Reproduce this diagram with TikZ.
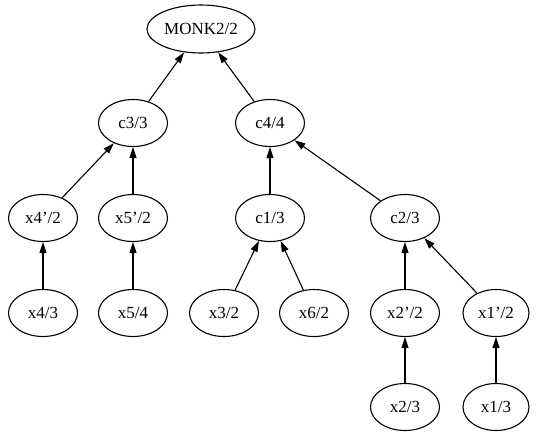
\documentclass[tikz,border=0pt]{standalone}
\usepackage{fontspec}
\setmainfont{Liberation Serif}
\usetikzlibrary{shapes.geometric,arrows.meta}
\begin{document}
\begin{tikzpicture}[x=1pt,y=-1pt,
  every node/.style={font=\fontsize{17}{20}\selectfont},
  vbox/.style={draw,ellipse,line width=1.1pt,minimum width=69pt,minimum height=47pt,inner sep=1pt},
  edge/.style={line width=1.1pt,-{Triangle[length=11pt,width=7pt]}}]
\useasboundingbox (0,0) rectangle (545,432);
\node[vbox,minimum width=108pt,minimum height=48pt] (monk) at (201,29) {MONK2/2};
\node[vbox] (c3) at (133,123) {c3/3};
\node[vbox] (c4) at (270,123) {c4/4};
\node[vbox] (x4p) at (43,218) {x4'/2};
\node[vbox] (x5p) at (133,218) {x5'/2};
\node[vbox] (c1) at (270,218) {c1/3};
\node[vbox] (c2) at (405,218) {c2/3};
\node[vbox] (x4) at (43,313) {x4/3};
\node[vbox] (x5) at (133,313) {x5/4};
\node[vbox] (x3) at (224,313) {x3/2};
\node[vbox] (x6) at (314,313) {x6/2};
\node[vbox] (x2p) at (405,313) {x2'/2};
\node[vbox,minimum width=66pt] (x1p) at (496,313) {x1'/2};
\node[vbox] (x2) at (405,407) {x2/3};
\node[vbox,minimum width=66pt] (x1) at (496,407) {x1/3};
\draw[edge] (c3) -- (monk);
\draw[edge] (c4) -- (monk);
\draw[edge] (x4p) -- (c3);
\draw[edge] (x5p) -- (c3);
\draw[edge] (c1) -- (c4);
\draw[edge] (c2) -- (c4);
\draw[edge] (x4) -- (x4p);
\draw[edge] (x5) -- (x5p);
\draw[edge] (x3) -- (c1);
\draw[edge] (x6) -- (c1);
\draw[edge] (x2p) -- (c2);
\draw[edge] (x1p) -- (c2);
\draw[edge] (x2) -- (x2p);
\draw[edge] (x1) -- (x1p);
\end{tikzpicture}
\end{document}
